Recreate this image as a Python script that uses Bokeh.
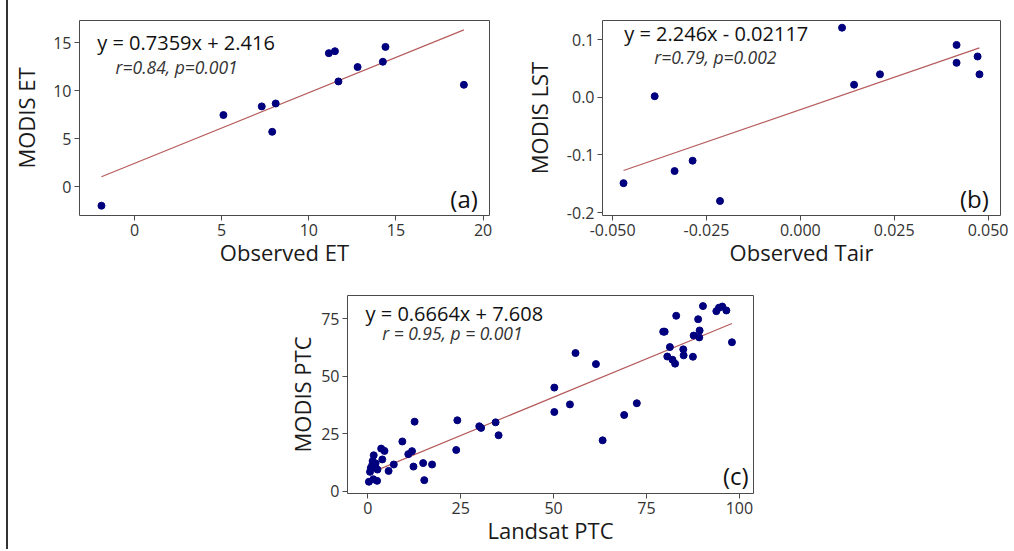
from bokeh.plotting import figure
from bokeh.models import Range1d, FixedTicker, NumeralTickFormatter, Label, Div, Spacer
from bokeh.layouts import row, column
from bokeh.embed import file_html
from bokeh.resources import INLINE

# ---------------- data ----------------
# panel (a): ET
a_observed = [-1.9, 5.1, 7.3, 8.1, 7.9, 11.15, 11.5, 11.7, 12.8, 14.25, 14.4, 18.9]
a_modis = [-2.0, 7.45, 8.35, 8.65, 5.7, 13.9, 14.1, 10.95, 12.45, 13.0, 14.55, 10.6]
a_fit = (0.7359, 2.416)
a_xticks = [0, 5, 10, 15, 20]
a_yticks = [0, 5, 10, 15]

# panel (b): temperature
b_observed = [-0.0471, -0.0388, -0.0335, -0.0287, -0.0214, 0.0111, 0.0143, 0.0212,
              0.0416, 0.0416, 0.0472, 0.0477]
b_modis = [-0.149, 0.002, -0.128, -0.110, -0.180, 0.121, 0.022, 0.040,
           0.091, 0.060, 0.071, 0.040]
b_fit = (2.246, -0.02117)
b_xticks = [-0.05, -0.025, 0.0, 0.025, 0.05]
b_yticks = [-0.2, -0.1, 0.0, 0.1]

# panel (c): PTC
c_landsat = [0.3, 1.5, 2.5, 0.6, 0.8, 1.2, 1.9, 2.1, 1.3, 1.6, 2.6, 3.9, 3.6, 4.5, 5.6,
             7.0, 9.3, 10.9, 11.9, 12.3, 12.6, 14.9, 15.2, 17.3, 23.8, 24.1, 30.0, 30.5,
             34.4, 35.2,
             50.2, 50.2, 54.4, 55.9, 61.4, 63.2, 69.0, 72.4,
             79.5, 79.9, 81.3, 80.6, 82.0, 82.7, 83.0, 84.9, 85.0, 87.5, 87.7, 88.9,
             89.2, 89.3, 90.2, 93.8, 94.5, 95.4, 96.5, 98.0]
c_modis = [4.2, 5.3, 4.6, 8.5, 10.2, 11.5, 10.7, 12.2, 13.2, 15.7, 9.5, 13.9, 18.6, 17.6, 8.9,
           11.7, 21.7, 16.2, 17.5, 10.8, 30.3, 12.3, 4.9, 11.7, 18.0, 30.9, 28.3, 27.6,
           30.0, 24.4,
           45.1, 34.5, 37.8, 60.1, 55.3, 22.2, 33.2, 38.3,
           69.4, 69.4, 62.7, 58.6, 57.2, 55.5, 76.3, 61.7, 59.1, 58.5, 67.7, 74.8,
           66.9, 69.9, 80.5, 78.3, 79.8, 80.3, 78.6, 64.8]
c_fit = (0.6664, 7.608)
c_fit_range = [2.5, 98.0]
c_xticks = [0, 25, 50, 75, 100]
c_yticks = [0, 25, 50, 75]

FONT = "Open Sans"
DOT = "#00007F"
LINE = "#B65C5C"
FRAME = "#4a4a4a"


def panel(xs, ys, fit, fit_range, xr, yr, xticks, yticks, xfmt, yfmt,
          xlabel, ylabel, eq, stats, tag, eq_pos, st_pos, tag_pos,
          w, h, bl, br, bt, bb, ystand, xstand):
    p = figure(width=w, height=h, output_backend="svg", toolbar_location=None,
               x_range=Range1d(*xr), y_range=Range1d(*yr),
               min_border_left=bl, min_border_right=br,
               min_border_top=bt, min_border_bottom=bb)
    p.grid.visible = False
    p.outline_line_color = FRAME
    p.outline_line_width = 1
    p.background_fill_color = "white"
    p.border_fill_color = "white"
    for ax, ticks, fmt, lab, stand in ((p.xaxis[0], xticks, xfmt, xlabel, xstand),
                                       (p.yaxis[0], yticks, yfmt, ylabel, ystand)):
        ax.ticker = FixedTicker(ticks=ticks)
        if fmt:
            ax.formatter = NumeralTickFormatter(format=fmt)
        ax.axis_label = lab
        ax.axis_label_text_font = FONT
        ax.axis_label_text_font_size = "22px"
        ax.axis_label_text_font_style = "normal"
        ax.axis_label_text_color = "#1a1a1a"
        ax.axis_label_standoff = stand
        ax.major_label_text_font = FONT
        ax.major_label_text_font_size = "16px"
        ax.major_label_text_color = "#333333"
        ax.major_label_standoff = 3
        ax.axis_line_color = None
        ax.major_tick_line_color = FRAME
        ax.major_tick_in = 0
        ax.major_tick_out = 5
        ax.minor_tick_line_color = None
    fx0, fx1 = fit_range if fit_range else (min(xs), max(xs))
    p.line([fx0, fx1], [fit[0] * fx0 + fit[1], fit[0] * fx1 + fit[1]],
           line_color=LINE, line_width=1.2)
    p.scatter(xs, ys, size=7, fill_color=DOT, line_color=DOT)
    p.add_layout(Label(x=eq_pos[0], y=eq_pos[1], text=eq, text_font=FONT,
                       text_font_size="20px", text_color="#111111",
                       text_baseline="middle", text_align="left"))
    p.add_layout(Label(x=st_pos[0], y=st_pos[1], text=stats, text_font=FONT,
                       text_font_size="17.5px", text_font_style="italic",
                       text_color="#333333", text_baseline="middle", text_align="left"))
    p.add_layout(Label(x=tag_pos[0], y=tag_pos[1], text=tag, text_font=FONT,
                       text_font_size="24px", text_color="#111111",
                       text_baseline="middle", text_align="right"))
    return p


pa = panel(a_observed, a_modis, a_fit, None, (-3.16, 20.37), (-3.02, 17.3),
           a_xticks, a_yticks, None, None, "Observed ET", "MODIS ET",
           "y = 0.7359x + 2.416", "r=0.84, p=0.001", "(a)",
           (-2.14, 15.0), (-1.09, 12.47), (19.7, -1.2),
           492, 273, 71, 11, 20, 56, 9, -2)

pb = panel(b_observed, b_modis, b_fit, None, (-0.0527, 0.0533), (-0.2052, 0.1335),
           b_xticks, b_yticks, "0.000", "0.0", "Observed Tair", "MODIS LST",
           "y = 2.246x - 0.02117", "r=0.79, p=0.002", "(b)",
           (-0.0469, 0.111), (-0.0389, 0.0705), (0.0502, -0.175),
           508, 273, 102, 8, 17, 58, 10, -2)

pc = panel(c_landsat, c_modis, c_fit, c_fit_range, (-5.46, 103.8), (-0.9, 85.1),
           c_xticks, c_yticks, None, None, "Landsat PTC", "MODIS PTC",
           "y = 0.6664x + 7.608", "r = 0.95, p = 0.001", "(c)",
           (-0.6, 77.4), (3.9, 68.7), (102.5, 7.1),
           480, 276, 67, 7, 22, 56, 1, -2)

edge = Div(text="", width=2, height=549,
           styles={"background-color": "#333333", "padding": "0", "margin": "0"})

layout = row(Spacer(width=6, height=10), edge,
             column(row(pa, pb), row(Spacer(width=272, height=276), pc)))

open("out.html", "w").write(file_html(layout, INLINE))
